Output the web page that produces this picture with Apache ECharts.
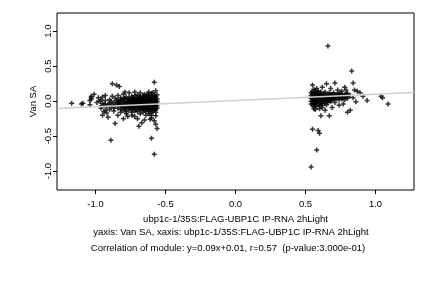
<!DOCTYPE html>
<html>
<head>
<meta charset="utf-8">
<script src="https://cdn.jsdelivr.net/npm/echarts@6/dist/echarts.min.js"></script>
<style>
html, body { margin: 0; padding: 0; background: #fff; }
#main { width: 432px; height: 288px; }
</style>
</head>
<body>
<div id="main"></div>
<script>
// left group (x < 0)
const leftCluster = [
  [-1.17,-0.03],[-1.10,-0.04],[-1.09,-0.03],[-1.04,0.01],[-1.03,0.07],[-1.01,0.10],[-1.03,0.05],[-1.04,-0.05],
  [-1.03,0.03],[-0.99,-0.02],[-0.97,0.00],[-0.96,0.02],[-0.95,-0.03],[-0.93,0.08],[-0.88,0.07],[-0.88,0.25],
  [-0.85,0.23],[-0.83,0.21],[-0.89,-0.56],[-0.86,-0.32],[-0.91,-0.23],[-0.95,-0.20],[-0.94,-0.15],[-0.93,-0.13],
  [-0.92,-0.17],[-0.90,-0.12],[-0.58,0.27],[-0.60,-0.53],[-0.58,-0.76],[-0.56,-0.39],[-0.57,-0.33],[-0.69,-0.36],
  [-0.67,-0.31],[-0.72,-0.22],[-0.77,-0.22],[-0.80,-0.25],[-0.76,0.12],[-0.72,0.13],[-0.60,-0.20],[-0.60,-0.24],
  [-0.62,-0.18],[-0.61,-0.26],[-0.58,-0.28],[-0.65,-0.27],[-0.70,-0.25],[-0.74,-0.20],[-0.78,-0.18],[-0.82,-0.16],
  [-0.84,-0.20],[-0.87,-0.14],[-0.89,-0.08],[-0.91,-0.05],[-0.93,-0.04],[-0.96,-0.07],[-0.98,0.05],[-0.95,0.06],
  [-0.86,0.04],[-0.84,0.08],[-0.80,0.10],[-0.79,0.13],[-0.68,0.12],[-0.65,0.10],[-0.62,0.13],[-0.59,0.12],
  [-0.57,0.15],[-0.58,0.08],[-0.56,0.09],
  [-0.90,-0.03],[-0.89,0.00],[-0.88,-0.05],[-0.87,-0.02],[-0.86,-0.07],[-0.85,0.01],[-0.92,-0.08],[-0.94,-0.06],
  [-0.90,0.02],[-0.87,-0.10],[-0.85,-0.04],[-0.96,-0.10],[-0.93,0.01],
  [-0.84,-0.02],[-0.84,-0.06],[-0.84,0.01],[-0.84,-0.10],
  [-0.83,-0.03],[-0.83,0.00],
  [-0.82,0.02],[-0.82,-0.04],[-0.82,-0.08],[-0.82,-0.12],[-0.82,0.05],
  [-0.81,-0.07],[-0.81,0.01],
  [-0.80,-0.01],[-0.80,-0.05],[-0.80,0.03],[-0.80,-0.09],[-0.80,-0.13],
  [-0.79,-0.04],[-0.79,0.04],[-0.79,-0.10],
  [-0.78,0.00],[-0.78,-0.03],[-0.78,-0.07],[-0.78,0.06],[-0.78,-0.11],[-0.78,-0.15],
  [-0.77,-0.01],[-0.77,-0.05],[-0.77,0.03],[-0.77,-0.08],
  [-0.76,0.02],[-0.76,-0.02],[-0.76,-0.06],[-0.76,-0.09],[-0.76,0.05],[-0.76,-0.13],
  [-0.75,0.00],[-0.75,-0.04],[-0.75,-0.07],[-0.75,0.02],[-0.75,-0.10],
  [-0.74,-0.01],[-0.74,-0.04],[-0.74,0.03],[-0.74,-0.08],[-0.74,0.07],[-0.74,-0.12],[-0.74,-0.16],
  [-0.73,-0.02],[-0.73,-0.05],[-0.73,0.01],[-0.73,-0.09],[-0.73,0.05],
  [-0.72,0.01],[-0.72,-0.03],[-0.72,-0.06],[-0.72,0.04],[-0.72,-0.10],[-0.72,-0.14],[-0.72,0.08],
  [-0.71,0.00],[-0.71,-0.04],[-0.71,-0.07],[-0.71,0.03],[-0.71,-0.12],
  [-0.70,-0.02],[-0.70,-0.05],[-0.70,0.02],[-0.70,-0.08],[-0.70,0.05],[-0.70,-0.11],[-0.70,-0.15],[-0.70,0.09],
  [-0.69,-0.01],[-0.69,-0.05],[-0.69,0.02],[-0.69,-0.09],[-0.69,0.07],
  [-0.68,0.00],[-0.68,-0.04],[-0.68,-0.07],[-0.68,0.03],[-0.68,-0.10],[-0.68,0.06],[-0.68,-0.13],[-0.68,-0.18],
  [-0.67,0.01],[-0.67,-0.02],[-0.67,-0.06],[-0.67,0.04],[-0.67,-0.11],
  [-0.66,-0.01],[-0.66,-0.03],[-0.66,-0.06],[-0.66,0.02],[-0.66,-0.09],[-0.66,0.05],[-0.66,-0.12],[-0.66,-0.16],[-0.66,0.08],
  [-0.65,-0.02],[-0.65,-0.05],[-0.65,0.02],[-0.65,-0.08],[-0.65,-0.13],[-0.65,0.05],
  [-0.64,0.01],[-0.64,-0.02],[-0.64,-0.05],[-0.64,-0.08],[-0.64,0.04],[-0.64,-0.11],[-0.64,0.07],[-0.64,-0.14],[-0.64,-0.20],
  [-0.63,0.00],[-0.63,-0.04],[-0.63,-0.07],[-0.63,0.03],[-0.63,-0.10],[-0.63,0.10],
  [-0.62,0.00],[-0.62,-0.03],[-0.62,-0.06],[-0.62,0.03],[-0.62,-0.09],[-0.62,0.06],[-0.62,-0.12],[-0.62,0.09],[-0.62,-0.15],
  [-0.61,-0.02],[-0.61,-0.05],[-0.61,0.01],[-0.61,-0.08],[-0.61,0.04],[-0.61,-0.11],
  [-0.60,-0.01],[-0.60,-0.04],[-0.60,0.02],[-0.60,-0.07],[-0.60,0.05],[-0.60,-0.10],[-0.60,0.08],[-0.60,-0.13],[-0.60,-0.17],[-0.60,0.11],
  [-0.59,0.00],[-0.59,-0.05],[-0.59,0.03],[-0.59,-0.08],[-0.59,-0.11],[-0.59,0.06],[-0.59,-0.14],
  [-0.58,-0.01],[-0.58,-0.04],[-0.58,0.02],[-0.58,-0.07],[-0.58,0.05],[-0.58,-0.10],[-0.58,-0.13],
  [-0.57,-0.02],[-0.57,0.01],[-0.57,-0.06],[-0.57,0.04],[-0.57,-0.09],[-0.57,-0.12],[-0.57,0.07],[-0.57,-0.16],[-0.57,-0.21],
  [-0.56,-0.03],[-0.56,0.00],[-0.56,-0.07],[-0.56,0.03],[-0.56,-0.10]
];

// right group (x > 0)
const rightCluster = [
  [0.66,0.79],[0.83,0.43],[0.84,0.26],[0.55,0.23],[0.65,0.25],[0.71,0.26],[0.78,0.20],[0.79,0.16],
  [0.85,0.16],[0.87,0.14],[0.89,0.12],[0.91,0.07],[0.94,0.01],[1.04,0.07],[1.05,0.05],[1.09,-0.04],
  [0.86,-0.01],[0.82,-0.13],[0.80,-0.16],[0.61,-0.21],[0.67,-0.21],[0.55,-0.40],[0.59,-0.42],[0.60,-0.46],
  [0.58,-0.70],[0.54,-0.94],[0.69,-0.09],[0.56,-0.11],[0.57,-0.12],[0.60,-0.11],[0.62,-0.09],[0.64,-0.13],
  [0.74,-0.06],[0.77,-0.04],[0.84,0.05],[0.82,0.08],[0.80,0.11],[0.76,0.14],[0.73,0.16],[0.68,0.18],
  [0.62,0.20],[0.58,0.18],[0.56,0.17],
  [0.54,0.00],[0.54,0.04],[0.54,0.08],[0.54,-0.04],[0.54,0.12],
  [0.55,0.02],[0.55,0.06],[0.55,0.10],[0.55,-0.02],[0.55,-0.06],[0.55,0.14],
  [0.56,0.00],[0.56,0.04],[0.56,0.08],[0.56,0.12],[0.56,-0.04],[0.56,-0.08],
  [0.57,0.02],[0.57,0.06],[0.57,0.10],[0.57,-0.02],[0.57,0.14],[0.57,-0.05],
  [0.58,0.00],[0.58,0.04],[0.58,0.08],[0.58,0.12],[0.58,-0.03],[0.58,-0.07],
  [0.59,0.02],[0.59,0.06],[0.59,0.10],[0.59,-0.01],[0.59,0.15],
  [0.60,0.00],[0.60,0.04],[0.60,0.08],[0.60,0.11],[0.60,-0.04],[0.60,-0.07],
  [0.61,0.03],[0.61,0.07],[0.61,0.10],[0.61,-0.02],[0.61,0.13],
  [0.62,0.01],[0.62,0.05],[0.62,0.09],[0.62,-0.03],[0.62,-0.06],
  [0.63,0.03],[0.63,0.07],[0.63,0.11],[0.63,-0.01],
  [0.64,0.02],[0.64,0.06],[0.64,0.09],[0.64,-0.03],[0.64,0.13],
  [0.65,0.04],[0.65,0.08],[0.65,0.00],[0.65,-0.05],
  [0.66,0.03],[0.66,0.06],[0.66,0.10],[0.66,-0.02],
  [0.67,0.05],[0.67,0.08],[0.67,0.01],[0.67,0.12],
  [0.68,0.04],[0.68,0.07],[0.68,-0.01],[0.68,0.10],
  [0.69,0.05],[0.69,0.08],[0.69,0.02],
  [0.70,0.06],[0.70,0.09],[0.70,0.03],[0.70,0.12],
  [0.71,0.05],[0.71,0.08],[0.71,-0.02],
  [0.72,0.06],[0.72,0.09],[0.72,0.03],
  [0.73,0.05],[0.73,0.08],[0.73,0.11],
  [0.74,0.06],[0.74,0.09],[0.74,0.02],
  [0.75,0.05],[0.75,0.08],[0.75,0.12],
  [0.76,0.06],[0.76,0.09],[0.76,0.03],
  [0.77,0.05],[0.77,0.08],
  [0.78,0.06],[0.78,0.09],[0.78,0.02],
  [0.79,0.07],[0.79,0.10],
  [0.80,0.06],[0.80,0.09],[0.80,0.04]
];

const xTicks = [-1, -0.5, 0, 0.5, 1];
const yTicks = [-1, -0.5, 0, 0.5, 1];
const xRange = [-1.275, 1.275];
const yRange = [-1.27, 1.26];
const fit = { slope: 0.09, intercept: 0.01 };

const xName = 'ubp1c-1/35S:FLAG-UBP1C IP-RNA 2hLight';
const yName = 'Van SA';
const caption1 = 'yaxis: Van SA, xaxis: ubp1c-1/35S:FLAG-UBP1C IP-RNA 2hLight';
const caption2 = 'Correlation of module: y=0.09x+0.01, r=0.57  (p-value:3.000e-01)';

const font = '"Liberation Sans", Arial, Helvetica, sans-serif';
const fs = 9.5;
// "+" marker, filled cross
const plus = 'path://M3.5,0H6.5V3.5H10V6.5H6.5V10H3.5V6.5H0V3.5H3.5Z';

const fitLine = xRange.map(x => [x, fit.slope * x + fit.intercept]);

var myChart = echarts.init(document.getElementById('main'));
myChart.setOption({
  animation: false,
  grid: {
    left: 57, right: 18, top: 13, bottom: 98,
    show: true, borderColor: '#000', borderWidth: 1,
    containLabel: false
  },
  xAxis: {
    type: 'value',
    min: xRange[0], max: xRange[1],
    splitLine: { show: false },
    axisLine: { show: false, onZero: false },
    axisTick: { show: true, inside: false, length: 4, customValues: xTicks, lineStyle: { color: '#000' } },
    axisLabel: {
      customValues: xTicks, margin: 9,
      fontFamily: font, fontSize: fs, color: '#000',
      formatter: v => v.toFixed(1)
    },
    name: xName, nameLocation: 'middle', nameGap: 21,
    nameTextStyle: { fontFamily: font, fontSize: fs, color: '#000' }
  },
  yAxis: {
    type: 'value',
    min: yRange[0], max: yRange[1],
    splitLine: { show: false },
    axisLine: { show: false, onZero: false },
    axisTick: { show: true, inside: false, length: 4, customValues: yTicks, lineStyle: { color: '#000' } },
    axisLabel: {
      customValues: yTicks, margin: 4, rotate: 90,
      fontFamily: font, fontSize: fs, color: '#000',
      formatter: v => v.toFixed(1)
    },
    name: yName, nameLocation: 'middle', nameGap: 19, nameMoveOverlap: false,
    nameTextStyle: { fontFamily: font, fontSize: fs, color: '#000' }
  },
  graphic: [
    { type: 'text', x: 231, y: 232, style: { text: caption1, font: fs + 'px ' + font, fill: '#000', textAlign: 'center', textVerticalAlign: 'middle' } },
    { type: 'text', x: 228, y: 248, style: { text: caption2, font: fs + 'px ' + font, fill: '#000', textAlign: 'center', textVerticalAlign: 'middle' } }
  ],
  series: [
    {
      type: 'scatter', data: leftCluster,
      symbol: plus, symbolSize: 5,
      itemStyle: { color: '#000' }
    },
    {
      type: 'scatter', data: rightCluster,
      symbol: plus, symbolSize: 5,
      itemStyle: { color: '#000' }
    },
    {
      type: 'line', data: fitLine, showSymbol: false, z: 5,
      lineStyle: { color: '#cfcfcf', width: 1.5 }
    }
  ]
});
</script>
</body>
</html>
